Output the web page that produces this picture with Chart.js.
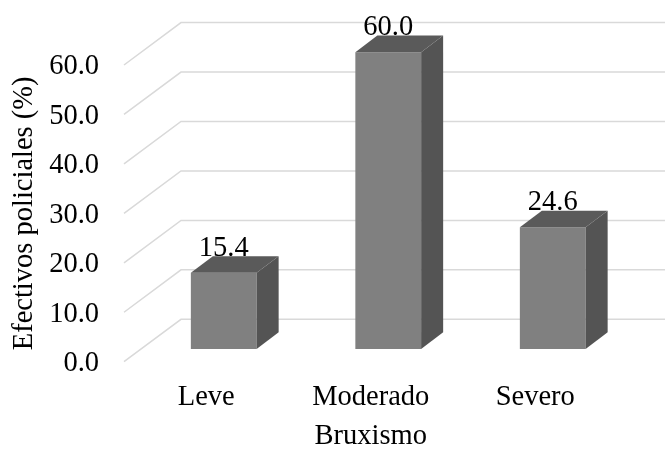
<!DOCTYPE html>
<html><head><meta charset="utf-8">
<script src="https://cdn.jsdelivr.net/npm/chart.js@4/dist/chart.umd.min.js"></script>
<style>html,body{margin:0;padding:0;background:#fff}#wrap{width:665px;height:450px;position:relative}</style>
</head><body><div id="wrap"><canvas id="c"></canvas></div>
<script>
const categories = ['Leve', 'Moderado', 'Severo'];
const values = [15.4, 60.0, 24.6];
const valueLabels = ['15.4', '60.0', '24.6'];
const yTicks = [0, 10, 20, 30, 40, 50, 60];
const xTitle = 'Bruxismo';
const yTitle = 'Efectivos policiales (%)';

const FONT = "'Liberation Serif','Times New Roman',serif";
const FSIZE = 28.5;
const BAR_SHIFT = {x: 17.5, y: -12.7};
const DEPTH = {x: 22, y: -16.7};
const WALL = {x: 57, y: -42.4};

const plugin3d = {
  id: 'three-d',
  beforeDatasetsDraw(chart) {
    const {ctx, chartArea, scales: {y}} = chart;
    ctx.save();
    ctx.strokeStyle = '#d9d9d9';
    ctx.lineWidth = 1.5;
    yTicks.forEach(v => {
      const py = y.getPixelForValue(v);
      ctx.beginPath();
      ctx.moveTo(chartArea.left, py);
      ctx.lineTo(chartArea.left + WALL.x, py + WALL.y);
      ctx.lineTo(chart.width, py + WALL.y);
      ctx.stroke();
    });
    ctx.restore();
    ctx.save();
    ctx.translate(BAR_SHIFT.x, BAR_SHIFT.y);
  },
  afterDatasetsDraw(chart) {
    const {ctx} = chart;
    const meta = chart.getDatasetMeta(0);
    meta.data.forEach((bar, i) => {
      const {x, y, base, width} = bar.getProps(['x', 'y', 'base', 'width'], true);
      const l = x - width / 2, r = x + width / 2;
      ctx.fillStyle = '#545454';
      ctx.beginPath();
      ctx.moveTo(r, y); ctx.lineTo(r + DEPTH.x, y + DEPTH.y); ctx.lineTo(r + DEPTH.x, base + DEPTH.y); ctx.lineTo(r, base);
      ctx.closePath(); ctx.fill();
      ctx.fillStyle = '#5a5a5a';
      ctx.beginPath();
      ctx.moveTo(l, y); ctx.lineTo(l + DEPTH.x, y + DEPTH.y); ctx.lineTo(r + DEPTH.x, y + DEPTH.y); ctx.lineTo(r, y);
      ctx.closePath(); ctx.fill();
      ctx.fillStyle = '#000';
      ctx.font = FSIZE + 'px ' + FONT;
      ctx.textAlign = 'center';
      ctx.textBaseline = 'alphabetic';
      ctx.fillText(valueLabels[i], x, y + DEPTH.y - 0.5);
    });
    ctx.restore();
  }
};

new Chart(document.getElementById('c'), {
  type: 'bar',
  data: {
    labels: categories,
    datasets: [{
      data: values,
      backgroundColor: '#808080',
      borderWidth: 0,
      barPercentage: 0.4,
      categoryPercentage: 1,
      clip: false
    }]
  },
  options: {
    responsive: true,
    maintainAspectRatio: false,
    animation: false,
    layout: {padding: {left: 0, top: 65, right: 47.5, bottom: 0}},
    plugins: {legend: {display: false}, tooltip: {enabled: false}},
    scales: {
      x: {
        grid: {display: false, drawTicks: false},
        border: {display: false},
        ticks: {font: {family: FONT, size: FSIZE}, color: '#000', padding: 19, maxRotation: 0, autoSkip: false},
        title: {display: true, text: xTitle, font: {family: FONT, size: FSIZE, lineHeight: 1.2}, color: '#000', padding: {top: 0, bottom: -4}},
        afterFit: s => { s.height = 88.3; }
      },
      y: {
        min: 0, max: 60,
        grid: {display: false, drawTicks: false},
        border: {display: false},
        afterBuildTicks: s => { s.ticks = yTicks.map(v => ({value: v})); },
        ticks: {font: {family: FONT, size: FSIZE}, color: '#000', padding: 25, labelOffset: 2, callback: v => Number(v).toFixed(1)},
        title: {display: true, text: yTitle, font: {family: FONT, size: FSIZE, lineHeight: 1.2}, color: '#000', padding: {top: 7, bottom: 0}},
        afterFit: s => { s.width = 124; }
      }
    }
  },
  plugins: [plugin3d]
});
</script>
</body></html>
